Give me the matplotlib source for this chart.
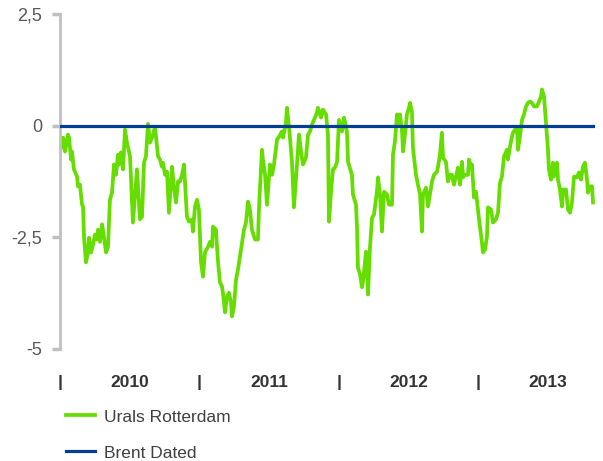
import numpy as np
import matplotlib
matplotlib.use("Agg")
import matplotlib.pyplot as plt
from matplotlib.ticker import FixedLocator, FixedFormatter

plt.rcParams["font.family"] = ["Liberation Sans", "DejaVu Sans"]

# time in years since 1 Jan 2010, spread in USD/bbl (Urals Rotterdam vs Brent Dated)
t = [0.000, 0.014, 0.022, 0.036, 0.057, 0.065, 0.079, 0.086, 0.100, 0.122,
     0.129, 0.143, 0.158, 0.165, 0.172, 0.186, 0.201, 0.208, 0.222, 0.237,
     0.251, 0.265, 0.272, 0.287, 0.301, 0.308, 0.330, 0.344, 0.358, 0.373,
     0.387, 0.401, 0.416, 0.423, 0.437, 0.452, 0.466, 0.480, 0.502, 0.523,
     0.552, 0.573, 0.588, 0.602, 0.616, 0.631, 0.645, 0.659, 0.681, 0.703,
     0.717, 0.731, 0.738, 0.753, 0.767, 0.781, 0.803, 0.817, 0.832, 0.846,
     0.860, 0.875, 0.889, 0.910, 0.925, 0.946, 0.953, 0.968, 0.982, 0.996,
     1.011, 1.025, 1.039, 1.061, 1.075, 1.090, 1.097, 1.118, 1.133, 1.147,
     1.161, 1.168, 1.183, 1.197, 1.211, 1.226, 1.233, 1.247, 1.262, 1.276,
     1.290, 1.305, 1.319, 1.333, 1.348, 1.362, 1.376, 1.398, 1.419, 1.427,
     1.448, 1.455, 1.470, 1.484, 1.505, 1.520, 1.534, 1.556, 1.570, 1.591,
     1.599, 1.620, 1.627, 1.642, 1.663, 1.677, 1.699, 1.713, 1.728, 1.742,
     1.763, 1.778, 1.792, 1.806, 1.828, 1.842, 1.849, 1.871, 1.885, 1.907,
     1.921, 1.928, 1.943, 1.957, 1.971, 1.986, 2.000, 2.022, 2.036, 2.057,
     2.065, 2.093, 2.100, 2.122, 2.129, 2.136, 2.151, 2.165, 2.172, 2.194,
     2.208, 2.222, 2.237, 2.251, 2.272, 2.280, 2.294, 2.308, 2.323, 2.344,
     2.358, 2.380, 2.387, 2.401, 2.416, 2.423, 2.437, 2.452, 2.459, 2.473,
     2.487, 2.502, 2.509, 2.523, 2.530, 2.552, 2.566, 2.581, 2.595, 2.602,
     2.624, 2.638, 2.652, 2.667, 2.681, 2.703, 2.710, 2.724, 2.738, 2.746,
     2.767, 2.781, 2.796, 2.810, 2.824, 2.839, 2.853, 2.867, 2.882, 2.889,
     2.903, 2.925, 2.932, 2.946, 2.953, 2.968, 2.982, 2.996, 3.004, 3.025,
     3.032, 3.047, 3.061, 3.068, 3.090, 3.104, 3.125, 3.140, 3.154, 3.168,
     3.183, 3.204, 3.211, 3.226, 3.240, 3.247, 3.262, 3.276, 3.283, 3.297,
     3.312, 3.326, 3.341, 3.355, 3.369, 3.384, 3.398, 3.419, 3.434, 3.448,
     3.455, 3.470, 3.484, 3.498, 3.505, 3.520, 3.534, 3.541, 3.563, 3.570,
     3.584, 3.599, 3.606, 3.627, 3.642, 3.656, 3.670, 3.685, 3.706, 3.720,
     3.735, 3.749, 3.763, 3.778, 3.785, 3.799, 3.814, 3.821]

urals = [-0.60, -0.31, -0.27, -0.58, -0.20, -0.27, -0.76, -0.58, -0.98, -1.14,
         -1.36, -1.32, -1.77, -1.81, -2.48, -3.06, -2.84, -2.51, -2.84, -2.66,
         -2.44, -2.55, -2.33, -2.60, -2.21, -2.33, -2.84, -2.71, -1.66, -1.50,
         -0.87, -1.10, -0.65, -0.87, -0.60, -0.98, -0.09, -0.38, -0.69, -2.17,
         -0.98, -2.10, -2.04, -0.83, -0.69, 0.04, -0.38, -0.27, -0.04, -0.69,
         -0.76, -0.92, -0.83, -1.10, -1.03, -1.95, -0.92, -1.39, -1.72, -1.25,
         -1.25, -1.10, -0.87, -2.04, -2.15, -2.10, -2.37, -1.81, -1.66, -1.88,
         -3.06, -3.38, -2.84, -2.71, -2.60, -2.71, -2.26, -2.33, -3.06, -3.51,
         -3.60, -3.74, -4.18, -3.83, -3.74, -3.96, -4.27, -4.05, -3.45, -3.22,
         -2.93, -2.62, -2.33, -2.17, -1.70, -1.88, -2.33, -2.55, -2.55, -1.81,
         -0.54, -0.76, -1.10, -1.77, -0.87, -1.10, -0.87, -0.31, -0.25, -0.13,
         -0.27, 0.07, 0.40, -0.04, -0.81, -1.83, -0.87, -0.20, -0.58, -0.87,
         -0.72, -0.20, -0.13, 0.02, 0.18, 0.29, 0.40, 0.18, 0.36, 0.25,
         -0.20, -2.15, -1.48, -0.98, -0.94, -0.81, 0.13, -0.13, 0.18, -0.13,
         -0.81, -1.10, -1.54, -1.77, -2.28, -3.18, -3.33, -3.62, -3.49, -2.82,
         -3.78, -2.73, -2.06, -1.99, -1.48, -1.16, -1.54, -2.37, -1.48, -1.54,
         -1.77, -1.77, -0.65, -0.36, 0.25, 0.02, 0.25, -0.13, -0.58, -0.20,
         0.25, 0.40, 0.51, 0.31, -0.49, -1.10, -1.32, -1.54, -2.37, -1.54,
         -1.39, -1.81, -1.54, -1.25, -1.10, -1.03, -0.92, -0.65, -0.16, -0.72,
         -0.81, -1.25, -1.10, -1.10, -1.32, -1.14, -0.94, -1.32, -0.81, -1.16,
         -1.10, -1.10, -0.76, -0.92, -0.87, -1.61, -1.48, -1.88, -2.10, -2.62,
         -2.84, -2.77, -2.48, -1.83, -1.88, -2.17, -2.10, -1.95, -1.28, -1.14,
         -0.69, -0.54, -0.76, -0.47, -0.25, -0.16, -0.09, -0.04, -0.54, -0.25,
         0.13, 0.25, 0.43, 0.51, 0.54, 0.51, 0.43, 0.43, 0.54, 0.65,
         0.81, 0.65, 0.07, -0.54, -0.98, -1.21, -0.83, -1.14, -0.83, -1.21,
         -1.43, -1.81, -1.43, -1.43, -1.88, -1.95, -1.72, -1.14, -1.16, -1.05,
         -1.21, -0.92, -0.83, -1.21, -1.50, -1.36, -1.36, -1.72]

brent = [0.0] * len(t)

years = ["2010", "2011", "2012", "2013"]
year_starts = [0, 1, 2, 3]
year_mids = [0.5, 1.5, 2.5, 3.5]
y_ticks = [2.5, 0, -2.5, -5]
y_labels = ["2,5", "0", "-2,5", "-5"]

GREEN = "#66DD00"
BLUE = "#003D94"

fig = plt.figure(figsize=(6.03, 4.61), dpi=100)
ax = fig.add_axes([0.0995, 0.2430, 0.8955, 0.7267])

ax.plot(t, urals, color=GREEN, lw=2.7, solid_joinstyle="round", label="Urals Rotterdam", zorder=2)
ax.plot(t, brent, color=BLUE, lw=2.3, label="Brent Dated", zorder=3)

ax.set_xlim(0, 3.871)
ax.set_ylim(-5, 2.5)

for s in ("top", "right", "bottom"):
    ax.spines[s].set_visible(False)
ax.spines["left"].set_color("#c0c0c0")
ax.spines["left"].set_linewidth(2)

ax.set_yticks(y_ticks)
ax.set_yticklabels(y_labels)
ax.tick_params(axis="y", length=6, width=2.5, color="#c0c0c0", pad=7,
               labelsize=13, labelcolor="#595959")

ax.xaxis.set_major_locator(FixedLocator(year_mids))
ax.xaxis.set_major_formatter(FixedFormatter(years))
ax.xaxis.set_minor_locator(FixedLocator(year_starts))
ax.xaxis.set_minor_formatter(FixedFormatter(["|"] * len(year_starts)))
ax.tick_params(axis="x", which="both", length=0, pad=18.5, labelsize=12.5,
               labelcolor="#333333")
for lab in ax.get_xticklabels(which="both"):
    lab.set_fontweight("bold")

fig.legend(loc="upper left", bbox_to_anchor=(0.109, 0.112), frameon=False,
           fontsize=12.5, labelcolor="#404040", handlelength=1.67,
           handletextpad=0.55, labelspacing=1.2, borderpad=0, borderaxespad=0)

fig.savefig("out.png", dpi=100)
